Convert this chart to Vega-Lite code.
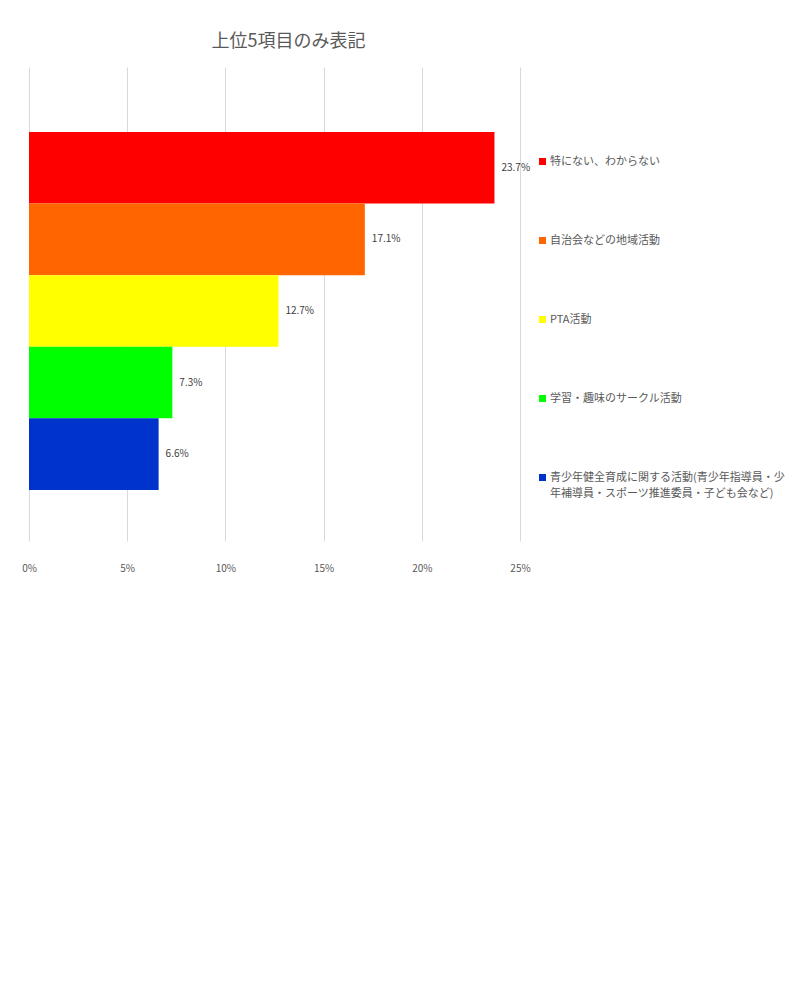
{
  "$schema": "https://vega.github.io/schema/vega-lite/v6.json",
  "autosize": {"type": "none"},
  "width": 491,
  "height": 474,
  "padding": {"left": 29, "top": 67, "right": 291, "bottom": 442},
  "background": "white",
  "config": {
    "view": {"stroke": null},
    "style": {"guide-label": {"lineHeight": 16}}
  },
  "title": {
    "text": "上位5項目のみ表記",
    "font": "Noto Sans CJK JP",
    "fontSize": 18,
    "fontWeight": "normal",
    "color": "#595959",
    "anchor": "middle",
    "dx": 14,
    "offset": 16
  },
  "data": {
    "values": [
      {"item": "特にない、わからない", "value": 0.237},
      {"item": "自治会などの地域活動", "value": 0.171},
      {"item": "PTA活動", "value": 0.127},
      {"item": "学習・趣味のサークル活動", "value": 0.073},
      {"item": "青少年健全育成に関する活動(青少年指導員・少年補導員・スポーツ推進委員・子ども会など)", "value": 0.066}
    ]
  },
  "encoding": {
    "y": {
      "field": "item",
      "type": "nominal",
      "sort": null,
      "axis": null,
      "scale": {"paddingInner": 0, "paddingOuter": 0.81, "align": 0.56}
    },
    "x": {
      "field": "value",
      "type": "quantitative",
      "scale": {"domain": [0, 0.25], "nice": false, "zero": true},
      "axis": {
        "title": null,
        "values": [0, 0.05, 0.1, 0.15, 0.2, 0.25],
        "format": ".0%",
        "labelFont": "Noto Sans CJK JP",
        "labelFontSize": 10,
        "labelColor": "#595959",
        "labelPadding": 22,
        "labelFlush": false,
        "labelOverlap": false,
        "ticks": false,
        "domain": false,
        "grid": true,
        "gridColor": "#d9d9d9",
        "gridWidth": 1
      }
    }
  },
  "layer": [
    {
      "mark": {"type": "bar", "strokeWidth": 0},
      "encoding": {
        "color": {
          "field": "item",
          "type": "nominal",
          "sort": null,
          "scale": {"range": ["#ff0000", "#ff6600", "#ffff00", "#00ff00", "#0033cc"]},
          "legend": {
            "title": null,
            "orient": "none",
            "legendX": 508,
            "legendY": 89,
            "direction": "vertical",
            "symbolType": "square",
            "symbolSize": 49,
            "symbolStrokeWidth": 0,
            "labelFont": "Noto Sans CJK JP",
            "labelFontSize": 11,
            "labelColor": "#595959",
            "labelLimit": 400,
            "labelOffset": 2,
            "rowPadding": 67,
            "labelExpr": "indexof(datum.label, '青少年') == 0 ? ['青少年健全育成に関する活動(青少年指導員・少', '年補導員・スポーツ推進委員・子ども会など)'] : datum.label"
          }
        }
      }
    },
    {
      "mark": {"type": "text", "align": "left", "dx": 7, "font": "Noto Sans CJK JP", "fontSize": 10, "color": "#404040"},
      "encoding": {
        "text": {"field": "value", "type": "quantitative", "format": ".1%"},
        "x": {"field": "value", "type": "quantitative"}
      }
    }
  ]
}
